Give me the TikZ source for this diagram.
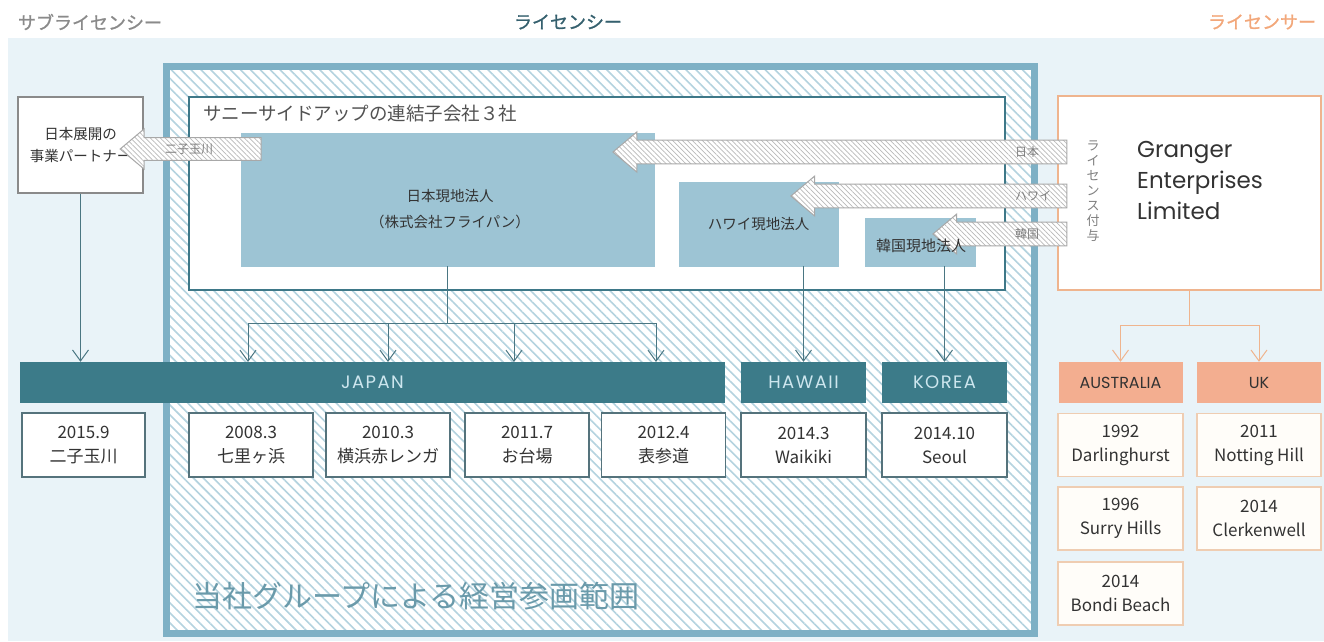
\documentclass[tikz,border=0pt]{standalone}
\usepackage{fontspec}
\setmainfont{Noto Sans CJK JP}
\newfontfamily\geo{Poppins}
\usetikzlibrary{arrows.meta,shapes.arrows,patterns.meta}

\definecolor{bgblue}{HTML}{E9F3F8}
\definecolor{frameblue}{HTML}{7EB0C5}
\definecolor{hatchblue}{HTML}{B4D3DF}
\definecolor{boxteal}{HTML}{3E7888}
\definecolor{compblue}{HTML}{9DC4D4}
\definecolor{barteal}{HTML}{3C7B89}
\definecolor{bartext}{HTML}{CDE6EE}
\definecolor{connteal}{HTML}{4A7682}
\definecolor{itemline}{HTML}{55737C}
\definecolor{salmon}{HTML}{F3AE90}
\definecolor{oline}{HTML}{EFB48E}
\definecolor{oitemline}{HTML}{EFCDB2}
\definecolor{cream}{HTML}{FFFDF9}
\definecolor{arrgray}{HTML}{A8A8A8}
\definecolor{arrtext}{HTML}{808080}
\definecolor{textdark}{HTML}{333333}
\definecolor{ttlgray}{HTML}{8A8A8A}
\definecolor{ttlteal}{HTML}{35606E}
\definecolor{ttlorange}{HTML}{F2A77A}
\definecolor{scopetext}{HTML}{6A9AAA}

\newcommand{\fsz}[2]{\fontsize{#1pt}{#2pt}\selectfont}

\tikzstyle{ttl}=[inner sep=0pt,font=\fsz{18}{18}\addfontfeature{FakeBold=1.2}]
\tikzstyle{subbox}=[rectangle,draw=compblue,fill=compblue,inner sep=0pt,align=center,text=textdark,font=\fsz{14.5}{26}]
\tikzstyle{item}=[rectangle,draw=itemline,line width=1.3pt,fill=white,minimum width=124pt,minimum height=64pt,inner sep=0pt,align=center,text=textdark,font=\fsz{17}{24}]
\tikzstyle{oitem}=[item,draw=oitemline,fill=cream,minimum height=63pt]
\tikzstyle{bar}=[rectangle,fill=barteal,minimum height=41pt,inner sep=0pt,text=bartext,font=\geo\fsz{18}{18}\addfontfeature{LetterSpace=8}]
\tikzstyle{obar}=[rectangle,fill=salmon,minimum height=41pt,minimum width=124pt,inner sep=0pt,text=textdark,font=\geo\fsz{16}{16}]
\tikzstyle{lic}=[single arrow,draw=arrgray,line width=1pt,preaction={fill=white},pattern={Lines[angle=-45,distance=3.5pt,line width=0.7pt]},pattern color=arrgray!80,single arrow tip angle=80,shape border rotate=180,inner xsep=0pt,inner ysep=10pt,minimum width=40pt]
\tikzstyle{lbl}=[inner sep=0pt,anchor=west,text=arrtext,font=\fsz{12}{12}]
\tikzstyle{conn}=[draw=connteal,line width=1pt,-{Straight Barb[length=11pt,width=16pt]}]
\tikzstyle{oconn}=[conn,draw=oline]

\begin{document}
\begin{tikzpicture}[x=1pt,y=-1pt]
	\useasboundingbox (0,0) rectangle (1324,641);
	\fill[bgblue] (8,38) rectangle (1324,641);
	\node[ttl,text=ttlgray] (tsub) at (90,22) {サブライセンシー};
	\node[ttl,text=ttlteal] (tlic) at (568,22) {ライセンシー};
	\node[ttl,text=ttlorange] (tlor) at (1262,22) {ライセンサー};

	% licensee scope
	\draw[frameblue,line width=7pt,preaction={fill=white},pattern={Lines[angle=-45,distance=7pt,line width=1.6pt]},pattern color=hatchblue] (166.5,66.5) rectangle (1034,633);
	\node[anchor=west,inner sep=0pt,text=scopetext,font=\fsz{30}{30}] (scope) at (192,596) {当社グループによる経営参画範囲};

	\node[draw=boxteal,line width=2pt,fill=white,minimum width=816pt,minimum height=193pt,inner sep=0pt] (group) at (597,193.5) {};
	\node[anchor=west,inner sep=0pt,text=textdark!85,font=\fsz{18.5}{18.5}] (grouptitle) at (203,113) {サニーサイドアップの連結子会社３社};
	\node[subbox,minimum width=413pt,minimum height=133pt] (jpco) at (447.5,199.5) {};
	\node[inner sep=0pt,align=center,text=textdark,font=\fsz{14.5}{26}] (jpcotext) at (450,209) {日本現地法人\\（株式会社フライパン）};
	\node[subbox,minimum width=159pt,minimum height=84pt] (hico) at (758.5,224) {ハワイ現地法人};
	\node[subbox,minimum width=110pt,minimum height=48pt] (krco) at (920,242) {};

	\node[draw=oline,line width=2pt,fill=white,minimum width=263pt,minimum height=194pt] (granger) at (1189.5,193) {};
	\node[anchor=west,inner sep=0pt,align=left,text=textdark,font=\geo\fsz{23}{31}] (gname) at (1137,180) {Granger\\Enterprises\\Limited};

	\node[draw=ttlgray,line width=2pt,fill=white,minimum width=125pt,minimum height=96pt,inner sep=0pt,align=center,text=textdark,font=\fsz{14.5}{22}] (partner) at (80.5,145) {日本展開の\\事業パートナー};

	% license arrows
	\node[lic,minimum height=454pt] (jparr) at (847,152) {};
	\node[lic,minimum height=276pt] (hiarr) at (936,196) {};
	\node[lic,minimum height=134pt] (krarr) at (1007,234) {};
	\node[lic,minimum height=141pt,minimum width=40pt,inner ysep=9pt] (ftarr) at (197.5,149) {};
	\node[lbl] (jplbl) at (1015,152) {日本};
	\node[lbl] (hilbl) at (1015,196) {ハワイ};
	\node[lbl] (krlbl) at (1015,234) {韓国};
	\node[lbl] (ftlbl) at (165,149) {二子玉川};
	\node[inner sep=0pt,text=textdark,font=\fsz{15}{15}] (krcotext) at (921,246) {韓国現地法人};
	\node[inner sep=0pt,align=center,text=arrtext,font=\fsz{13}{15}] (grant) at (1093,191) {ラ\\イ\\セ\\ン\\ス\\付\\与};

	% stores
	\node[bar,minimum width=705pt] (japan) at (372.5,382.5) {JAPAN};
	\node[bar,minimum width=125pt] (hawaii) at (803.5,382.5) {HAWAII};
	\node[bar,minimum width=125pt] (korea) at (944.5,382.5) {KOREA};
	\node[obar] (aus) at (1120.5,382.5) {AUSTRALIA};
	\node[obar] (uk) at (1259,382.5) {UK};

	\node[item,minimum width=123pt] (futako) at (83.5,445) {2015.9\\二子玉川};
	\node[item] (shichi) at (251,445) {2008.3\\七里ヶ浜};
	\node[item] (yoko) at (388,445) {2010.3\\横浜赤レンガ};
	\node[item] (odaiba) at (527,445) {2011.7\\お台場};
	\node[item] (omote) at (663.5,445) {2012.4\\表参道};
	\node[item,minimum width=125pt] (waikiki) at (803.5,445) {2014.3\\Waikiki};
	\node[item,minimum width=125pt] (seoul) at (944.5,445) {2014.10\\Seoul};

	\node[oitem,minimum width=125pt] (darl) at (1120.5,445) {1992\\Darlinghurst};
	\node[oitem,minimum width=125pt] (surry) at (1120.5,518.5) {1996\\Surry Hills};
	\node[oitem,minimum width=125pt] (bondi) at (1120.5,593.5) {2014\\Bondi Beach};
	\node[oitem] (notting) at (1259,445) {2011\\Notting Hill};
	\node[oitem] (clerk) at (1259,518.5) {2014\\Clerkenwell};

	% connectors
	\draw[conn] (partner.south) -- (partner.south |- japan.north);
	\coordinate (jpsplit) at (447.5,323);
	\draw[conn,-] (jpco.south) -- (jpsplit);
	\foreach \x/\n in {248/a,388/b,514/c,656/d}{
		\coordinate (jp\n) at (\x,362);
		\draw[conn] (jpsplit) -| (jp\n);
	}
	\draw[conn] (hawaii.north |- hico.south) -- (hawaii.north);
	\draw[conn] (korea.north |- krco.south) -- (korea.north);
	\coordinate (gsplit) at (1189.5,325);
	\draw[oconn,-] (granger.south) -- (gsplit);
	\draw[oconn] (gsplit) -| (aus.north);
	\draw[oconn] (gsplit) -| (uk.north);
\end{tikzpicture}
\end{document}
